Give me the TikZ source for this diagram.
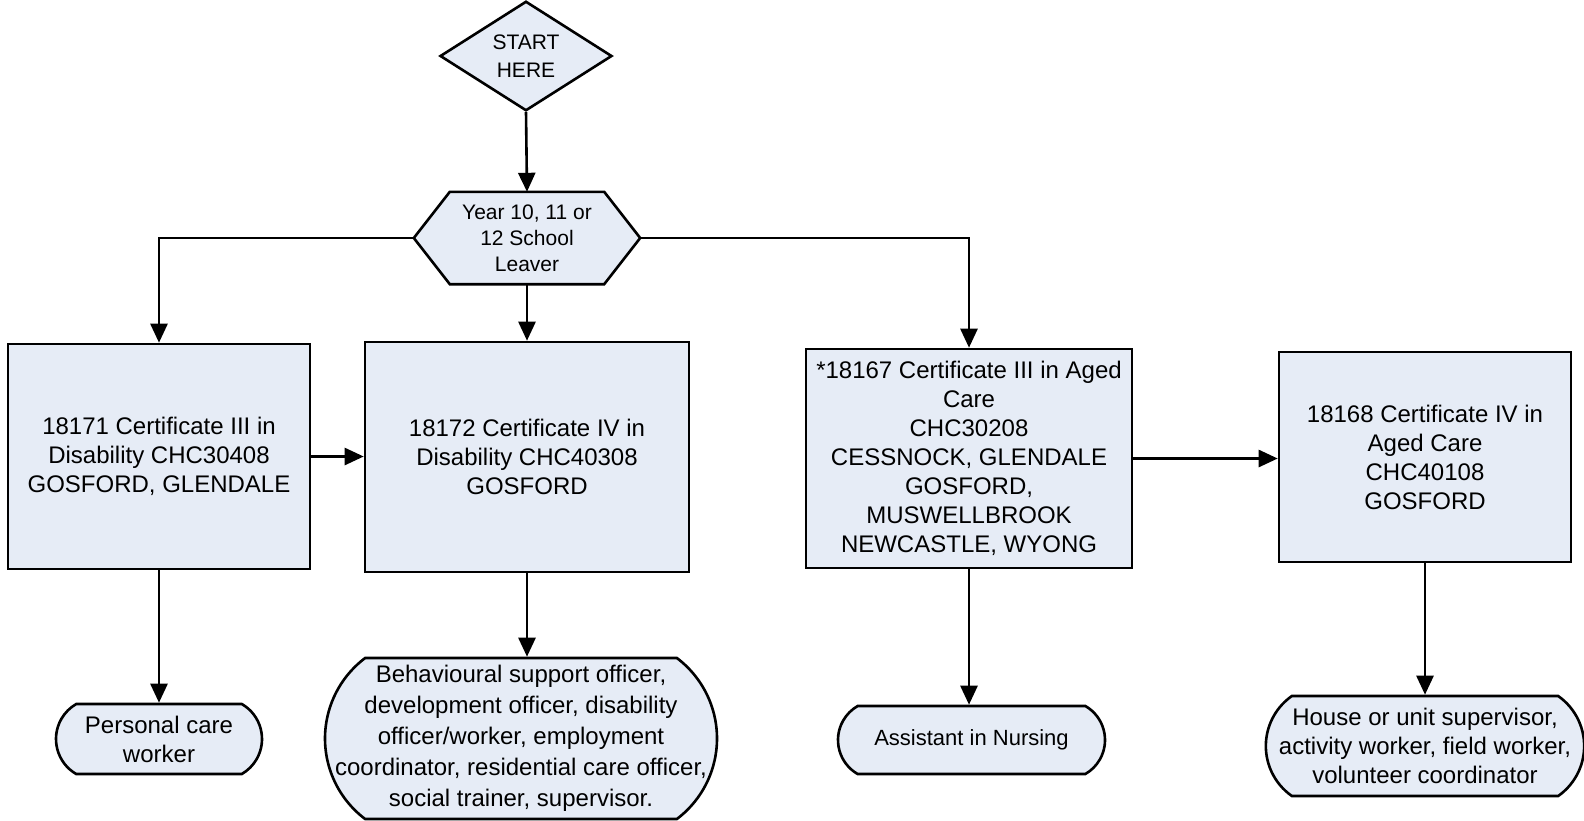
\documentclass[tikz,border=0pt]{standalone}
\usepackage{fontspec}
\setmainfont{Liberation Sans}
\usetikzlibrary{arrows.meta,shapes.geometric,shapes.misc,backgrounds}
\definecolor{boxfill}{RGB}{230,236,246}
\begin{document}
\begin{tikzpicture}[x=1pt,y=-1pt,
  shapeline/.style={draw=black,line width=2.6pt,fill=boxfill},
  certbox/.style={shapeline,rectangle,inner sep=0pt,align=center,font=\fontsize{24}{29}\selectfont},
  term/.style={shapeline,rounded rectangle,inner sep=0pt,align=center,font=\fontsize{24}{29}\selectfont},
  conn/.style={line width=2.6pt,-{Triangle[length=19pt,width=17pt]}}]
\useasboundingbox (0,0) rectangle (1584,820);

\node[shapeline,diamond,minimum width=172pt,minimum height=102pt,inner sep=0pt,align=center,font=\fontsize{21}{28}\selectfont] (start) at (526,56) {START\\HERE};

\node[inner sep=0pt,minimum width=226pt,minimum height=92pt,align=center,font=\fontsize{21}{26}\selectfont] (leaver) at (527,238) {Year 10, 11 or\\12 School\\Leaver};
\begin{scope}[on background layer]
\path[shapeline] (leaver.west) -- ([xshift=36pt]leaver.north west) -- ([xshift=-36pt]leaver.north east) -- (leaver.east) -- ([xshift=-36pt]leaver.south east) -- ([xshift=36pt]leaver.south west) -- cycle;
\end{scope}

\node[certbox,minimum width=302pt,minimum height=225pt] (cert1) at (159,456.5) {18171 Certificate III in\\Disability CHC30408\\GOSFORD, GLENDALE};
\node[certbox,minimum width=324pt,minimum height=230pt] (cert2) at (527,457) {18172 Certificate IV in\\Disability CHC40308\\GOSFORD};
\node[certbox,minimum width=326pt,minimum height=219pt] (cert3) at (969,458.5) {*18167 Certificate III in Aged\\Care\\CHC30208\\CESSNOCK, GLENDALE\\GOSFORD,\\MUSWELLBROOK\\NEWCASTLE, WYONG};
\node[certbox,minimum width=292pt,minimum height=210pt] (cert4) at (1425,457) {18168 Certificate IV in\\Aged Care\\CHC40108\\GOSFORD};

\node[term,rounded rectangle arc length=120,minimum width=206pt,minimum height=70pt] (job1) at (159,739) {Personal care\\worker};
\node[shapeline,rounded rectangle,inner sep=0pt,rounded rectangle arc length=106,minimum width=392pt,minimum height=161pt,font=\fontsize{24}{31}\selectfont] (job2) at (521,738.5) {\makebox[310pt][c]{\begin{tabular}{@{}c@{}}Behavioural support officer,\\development officer, disability\\officer/worker, employment\\coordinator, residential care officer,\\social trainer, supervisor.\end{tabular}}};
\node[term,rounded rectangle arc length=120,minimum width=267pt,minimum height=68pt,font=\fontsize{22}{27}\selectfont] (job3) at (971.5,740) {Assistant in Nursing};
\node[term,rounded rectangle arc length=110,minimum width=314pt,minimum height=100pt] (job4) at (1425,746) {House or unit supervisor,\\activity worker, field worker,\\volunteer coordinator};

\draw[conn] (start.south) -- (leaver.north);
\draw[conn] (leaver.west) -| (cert1.north);
\draw[conn] (leaver.south) -- (cert2.north);
\draw[conn] (leaver.east) -| (cert3.north);
\draw[conn] (cert1.east) -- (cert2.west |- cert1.east);
\draw[conn] (cert3.east) -- (cert4.west |- cert3.east);
\draw[conn] (cert1.south) -- (cert1.south |- job1.north);
\draw[conn] (cert2.south) -- (cert2.south |- job2.north);
\draw[conn] (cert3.south) -- (cert3.south |- job3.north);
\draw[conn] (cert4.south) -- (cert4.south |- job4.north);
\end{tikzpicture}
\end{document}
